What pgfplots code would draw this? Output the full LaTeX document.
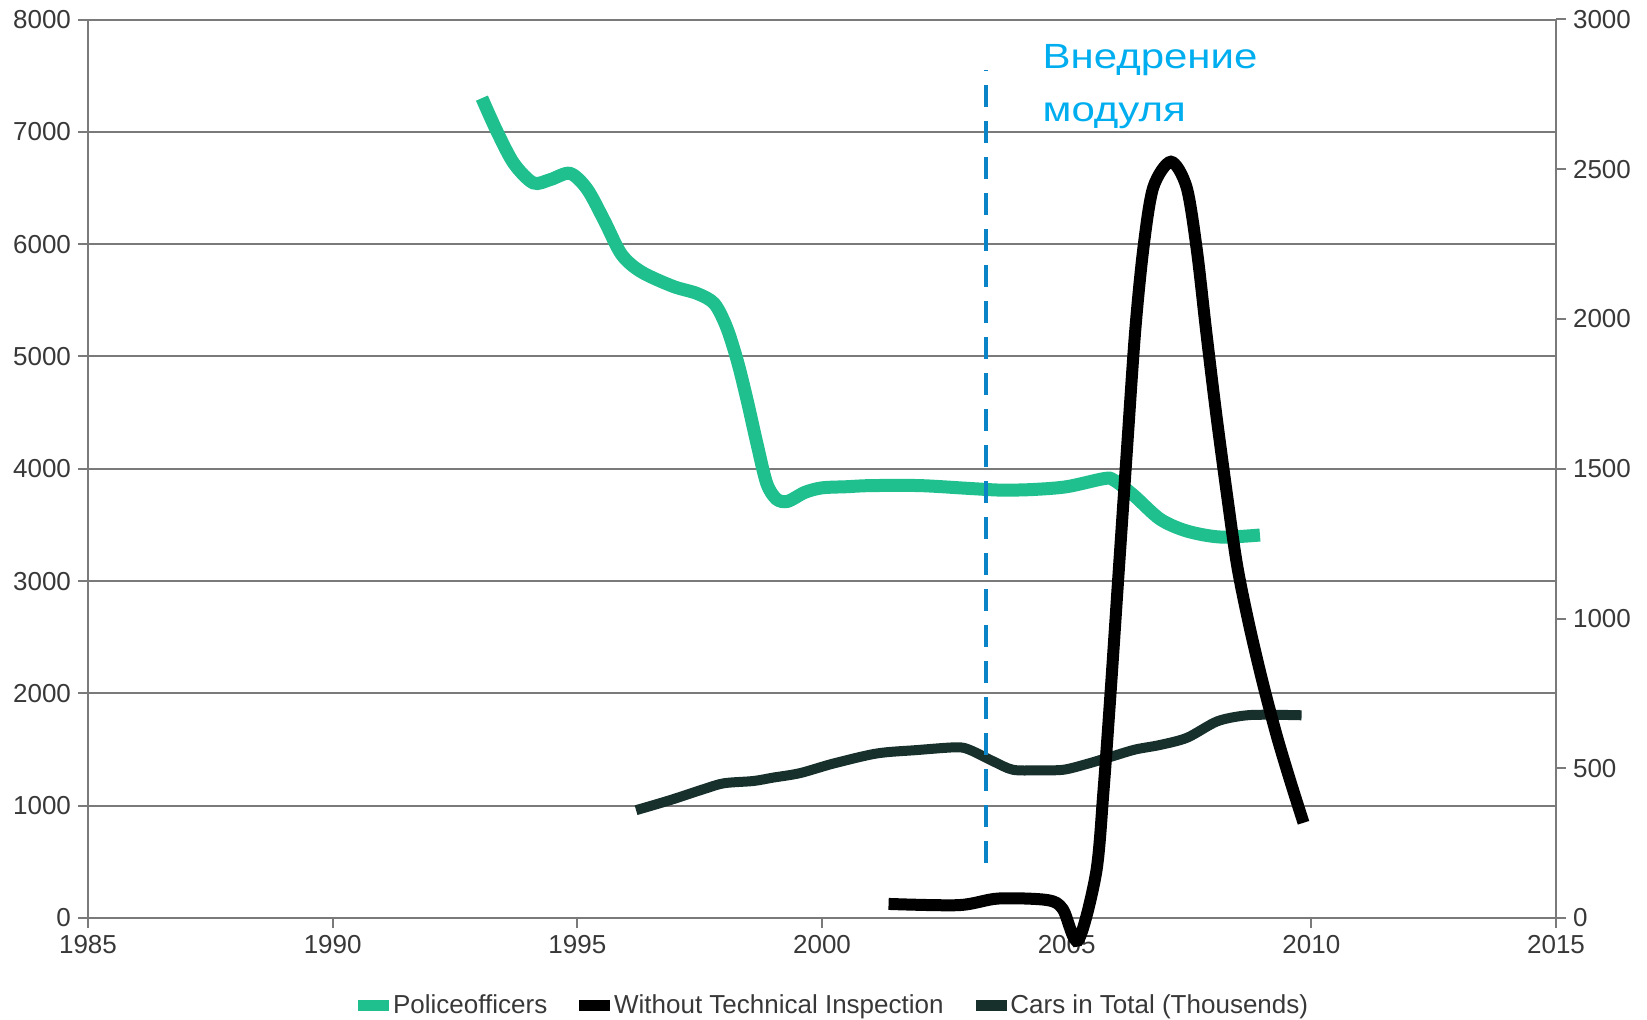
\documentclass[border=0pt]{standalone}
\usepackage{fontspec}
\setmainfont{Liberation Sans}
\usepackage{pgfplots}
\pgfplotsset{compat=1.18}
\definecolor{police}{HTML}{1FC08E}
\definecolor{cars}{HTML}{17302B}
\definecolor{dashblue}{HTML}{0A84C6}
\definecolor{annot}{HTML}{00AEEF}
\definecolor{gridc}{HTML}{7A7A7A}
\definecolor{tickc}{HTML}{383838}
\pgfplotsset{
  common/.style={
    scale only axis, width=734pt, height=449.25pt,
    at={(44pt,50.5pt)}, anchor=south west,
    xmin=1985, xmax=2015,
    tick align=outside, major tick length=5pt,
    tick style={gridc, line width=1pt},
    axis line style={gridc, line width=1.2pt, -},
    ticklabel style={font=\fontsize{13}{15}\selectfont, text=tickc},
    /pgf/number format/.cd, 1000 sep={}, assume math mode=true,
  }
}
\begin{document}
\begin{tikzpicture}
\useasboundingbox (0,0) rectangle (823.5pt,509.5pt);
\begin{axis}[common,
  ymin=0, ymax=8000,
  axis x line*=bottom, axis y line*=left,
  xtick={1985,1990,...,2015}, ytick={0,1000,...,8000},
  ymajorgrids, grid style={gridc, line width=1pt},
  legend columns=3,
  legend style={at={(0.509,-0.097)}, anchor=center, draw=none, fill=none,
    font=\fontsize{13}{15}\selectfont, text=tickc,
    /tikz/every even column/.append style={column sep=14pt}},
  legend image code/.code={\fill[#1] (0pt,-2.6pt) rectangle (15pt,2.6pt);},
]
\addlegendimage{police}
\addlegendentry{Policeofficers}
\addlegendimage{black}
\addlegendentry{Without Technical Inspection}
\addlegendimage{cars}
\addlegendentry{Cars in Total (Thousends)}

\addplot[police, line width=6.5pt, smooth, tension=0.5, forget plot] coordinates {
(1993.05,7300) (1993.35,7010) (1993.7,6720) (1994.1,6545) (1994.45,6575)
(1994.85,6630) (1995.2,6490) (1995.55,6210) (1995.9,5910) (1996.3,5755)
(1996.95,5625) (1997.45,5560) (1997.8,5470) (1998.05,5260) (1998.27,4960)
(1998.47,4610) (1998.67,4225) (1998.87,3870) (1999.07,3730) (1999.3,3710)
(1999.65,3790) (2000.0,3830) (2000.5,3840) (2001.0,3850) (2002.0,3850)
(2003.0,3825) (2003.65,3810) (2004.3,3815) (2005.0,3840) (2005.76,3912)
(2005.96,3900) (2006.37,3763) (2006.91,3551) (2007.46,3445) (2008.14,3392)
(2008.95,3410)
};
\addplot[cars, line width=5pt, smooth, tension=0.5, forget plot] coordinates {
(1996.2,960) (1996.9,1050) (1997.6,1150) (1998.0,1200) (1998.6,1220)
(1999.0,1250) (1999.55,1290) (2000.23,1375) (2001.12,1465) (2001.93,1495)
(2002.75,1520) (2003.03,1495) (2003.5,1395) (2003.9,1320) (2004.4,1315)
(2004.93,1320) (2005.4,1370) (2005.9,1435) (2006.4,1500) (2006.9,1540)
(2007.46,1605) (2008.07,1750) (2008.62,1802) (2009.1,1810) (2009.8,1805)
};
\addplot[dashblue, line width=2pt, dash pattern=on 11pt off 7pt, forget plot] coordinates {
(2003.35,490) (2003.35,7550)
};
\node[anchor=base west, inner sep=0, text=annot, font=\fontsize{17.5}{21}\selectfont] at (axis cs:2004.5,7560) {\scalebox{1.2}[1]{Внедрение}};
\node[anchor=base west, inner sep=0, text=annot, font=\fontsize{17.5}{21}\selectfont] at (axis cs:2004.5,7091) {\scalebox{1.2}[1]{модуля}};
\end{axis}

\begin{axis}[common,
  ymin=0, ymax=3000,
  axis y line*=right, axis x line=none,
  ytick={0,500,...,3000},
  clip=false,
]
\addplot[black, line width=6pt, smooth, tension=0.5] coordinates {
(2001.36,47) (2002.8,43) (2003.6,65) (2004.6,60) (2004.92,30)
(2005.23,-75) (2005.6,150) (2005.75,420) (2005.9,760) (2006.06,1150)
(2006.23,1560) (2006.4,1960) (2006.57,2240) (2006.77,2440) (2007.13,2525)
(2007.45,2440) (2007.66,2230) (2007.85,1960) (2008.05,1690) (2008.27,1420)
(2008.48,1180) (2008.72,985) (2009.0,790) (2009.29,610) (2009.57,457)
(2009.84,318)
};
\end{axis}
\end{tikzpicture}
\end{document}
